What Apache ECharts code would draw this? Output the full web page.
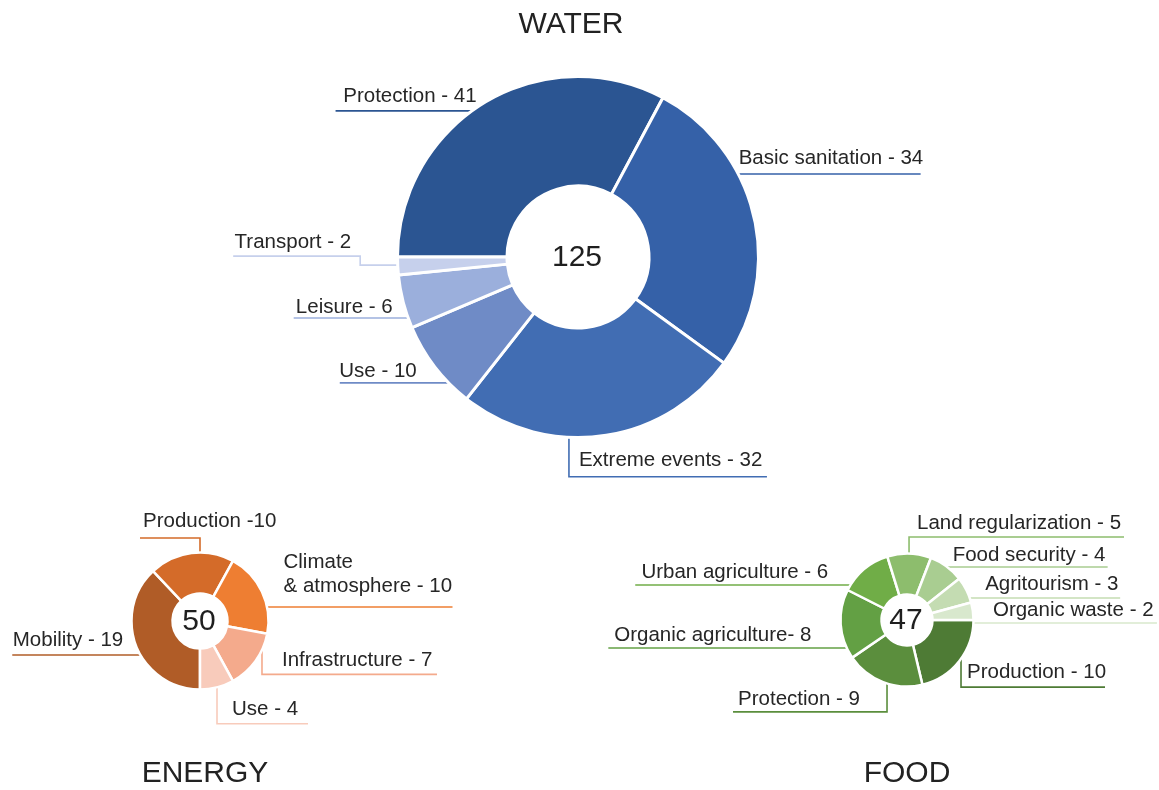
<!DOCTYPE html>
<html>
<head>
<meta charset="utf-8">
<script src="https://cdn.jsdelivr.net/npm/echarts@6/dist/echarts.min.js"></script>
<style>
  html, body { margin: 0; padding: 0; background: #ffffff; }
  #chart { width: 1159px; height: 790px; }
</style>
</head>
<body>
<div id="chart"></div>
<script>
// ---------- DATA ----------
const waterCategories = ['Protection', 'Basic sanitation', 'Extreme events', 'Use', 'Leisure', 'Transport'];
const waterValues = [41, 34, 32, 10, 6, 2];
const waterLabels = ['Protection - 41', 'Basic sanitation - 34', 'Extreme events - 32', 'Use - 10', 'Leisure - 6', 'Transport - 2'];

const energyCategories = ['Mobility', 'Production', 'Climate & atmosphere', 'Infrastructure', 'Use'];
const energyValues = [19, 10, 10, 7, 4];
const energyLabels = ['Mobility - 19', 'Production -10', 'Climate\n& atmosphere - 10', 'Infrastructure - 7', 'Use - 4'];

const foodCategories = ['Production', 'Protection', 'Organic agriculture', 'Urban agriculture', 'Land regularization', 'Food security', 'Agritourism', 'Organic waste'];
const foodValues = [10, 9, 8, 6, 5, 4, 3, 2];
const foodLabels = ['Production - 10', 'Protection - 9', 'Organic agriculture- 8', 'Urban agriculture - 6', 'Land regularization - 5', 'Food security - 4', 'Agritourism - 3', 'Organic waste - 2'];

const chartTitles = ['WATER', 'ENERGY', 'FOOD'];

// ---------- STYLE / LAYOUT ----------
const FONT = "'Liberation Sans', Arial, Helvetica, sans-serif";
const TEXT_COLOR = '#262626';

const waterColors = ['#2b5592', '#3561a8', '#416db3', '#6f8bc6', '#9bafdc', '#c6d0ec'];
const energyColors = ['#b05c27', '#d46b29', '#ee7e32', '#f4aa8c', '#f8cbbb'];
const foodColors = ['#4e7b35', '#5b8e3d', '#63a044', '#70ad47', '#8dbd6d', '#a9cd91', '#c4dcb2', '#d8e8cd'];

// leader-line layout: a = angle on ring (deg) where line starts, legs = relative moves,
// ta = text alignment, tx = text x offset from start of last leg, off = baseline above line
const waterLeader = [
  { a: 125.3, legs: [[-139, 0]], ta: 'right', tx: 2, off: 8 },
  { a: 27.6, legs: [[184, 0]], ta: 'left', tx: 2, off: 9 },
  { a: 267.1, legs: [[0, 41], [198, 0]], ta: 'left', tx: 10, off: 9 },
  { a: 224.7, legs: [[-111, 0]], ta: 'right', tx: -34, off: 5 },
  { a: 199.9, legs: [[-116, 0]], ta: 'right', tx: -17, off: 4 },
  { a: 182.6, legs: [[-39, 0], [0, -9], [-127, 0]], ta: 'right', tx: -9, off: 7 }
];
const energyLeader = [
  { a: 210.5, legs: [[-130, 0]], ta: 'right', tx: -19, off: 8 },
  { a: 90, legs: [[0, -16], [-60, 0]], ta: 'left', tx: -57, off: 10 },
  { a: 12.1, legs: [[187, 0]], ta: 'left', tx: 18, off: 14 },
  { a: -22.3, legs: [[0, 28], [175, 0]], ta: 'left', tx: 20, off: 7 },
  { a: -75.3, legs: [[0, 38], [91, 0]], ta: 'left', tx: 15, off: 7 }
];
const foodLeader = [
  { a: -33.8, legs: [[0, 31], [144, 0]], ta: 'left', tx: 6, off: 8 },
  { a: 252.1, legs: [[0, 30], [-154, 0]], ta: 'right', tx: -27, off: 5.5 },
  { a: 205.5, legs: [[-240, 0]], ta: 'right', tx: -37, off: 6 },
  { a: 147.4, legs: [[-217, 0]], ta: 'right', tx: -24, off: 6 },
  { a: 88.2, legs: [[0, -18], [215, 0]], ta: 'left', tx: 8, off: 7 },
  { a: 54.6, legs: [[163, 0]], ta: 'left', tx: 8, off: 5 },
  { a: 19.8, legs: [[152, 0]], ta: 'left', tx: 17, off: 7 },
  { a: -2.6, legs: [[185, 0]], ta: 'left', tx: 21, off: 6 }
];

const waterGeom = { center: [578, 257], rIn: 71, rOut: 180.5, rEdge: 179, border: 3, startAngle: 180 };
const energyGeom = { center: [200, 621], rIn: 27.5, rOut: 68.5, rEdge: 67, border: 2.5, startAngle: 270 };
const foodGeom = { center: [907, 620], rIn: 25.5, rOut: 66.5, rEdge: 65, border: 2.5, startAngle: 0 };

function makeLabelLayout(geom, leader) {
  return function (p) {
    const c = leader[p.dataIndex];
    if (!c) return {};
    const ang = c.a * Math.PI / 180;
    let x = geom.center[0] + geom.rEdge * Math.cos(ang);
    let y = geom.center[1] - geom.rEdge * Math.sin(ang);
    const pts = [[x, y]];
    let sx = x, sy = y;
    c.legs.forEach(function (l, i) {
      if (i === c.legs.length - 1) { sx = x; sy = y; }
      x += l[0]; y += l[1];
      pts.push([x, y]);
    });
    return {
      x: sx + c.tx,
      y: sy - c.off + 5,
      align: c.ta,
      verticalAlign: 'bottom',
      labelLinePoints: pts
    };
  };
}

function makePie(categories, values, labels, colors, geom, leader) {
  return {
    type: 'pie',
    center: geom.center,
    radius: [geom.rIn, geom.rOut],
    startAngle: geom.startAngle,
    clockwise: true,
    avoidLabelOverlap: false,
    silent: true,
    data: categories.map(function (name, i) {
      return { name: name, value: values[i], itemStyle: { color: colors[i] } };
    }),
    itemStyle: { borderColor: '#ffffff', borderWidth: geom.border },
    label: {
      show: true,
      position: 'outside',
      formatter: function (p) { return labels[p.dataIndex]; },
      fontFamily: FONT,
      fontSize: 20.5,
      lineHeight: 24,
      color: TEXT_COLOR
    },
    labelLine: { show: true, smooth: false, lineStyle: { width: 1.6 } },
    labelLayout: makeLabelLayout(geom, leader),
    emphasis: { disabled: true }
  };
}

function sum(arr) { return arr.reduce(function (s, v) { return s + v; }, 0); }

function centerText(geom, values) {
  return {
    type: 'text', x: geom.center[0] - 1, y: geom.center[1] + 0.5, silent: true,
    style: { text: String(sum(values)), fontFamily: FONT, fontSize: 30, fill: '#1f1f1f', align: 'center', verticalAlign: 'middle' }
  };
}
function titleText(text, x, y) {
  return {
    type: 'text', x: x, y: y, silent: true,
    style: { text: text, fontFamily: FONT, fontSize: 30, fill: '#222222', align: 'center', verticalAlign: 'middle' }
  };
}

const chart = echarts.init(document.getElementById('chart'), null, { renderer: 'canvas' });
chart.setOption({
  backgroundColor: '#ffffff',
  animation: false,
  series: [
    makePie(waterCategories, waterValues, waterLabels, waterColors, waterGeom, waterLeader),
    makePie(energyCategories, energyValues, energyLabels, energyColors, energyGeom, energyLeader),
    makePie(foodCategories, foodValues, foodLabels, foodColors, foodGeom, foodLeader)
  ],
  graphic: [
    centerText(waterGeom, waterValues),
    centerText(energyGeom, energyValues),
    centerText(foodGeom, foodValues),
    titleText(chartTitles[0], 571, 25),
    titleText(chartTitles[1], 205, 774),
    titleText(chartTitles[2], 907, 774)
  ]
});
</script>
</body>
</html>
